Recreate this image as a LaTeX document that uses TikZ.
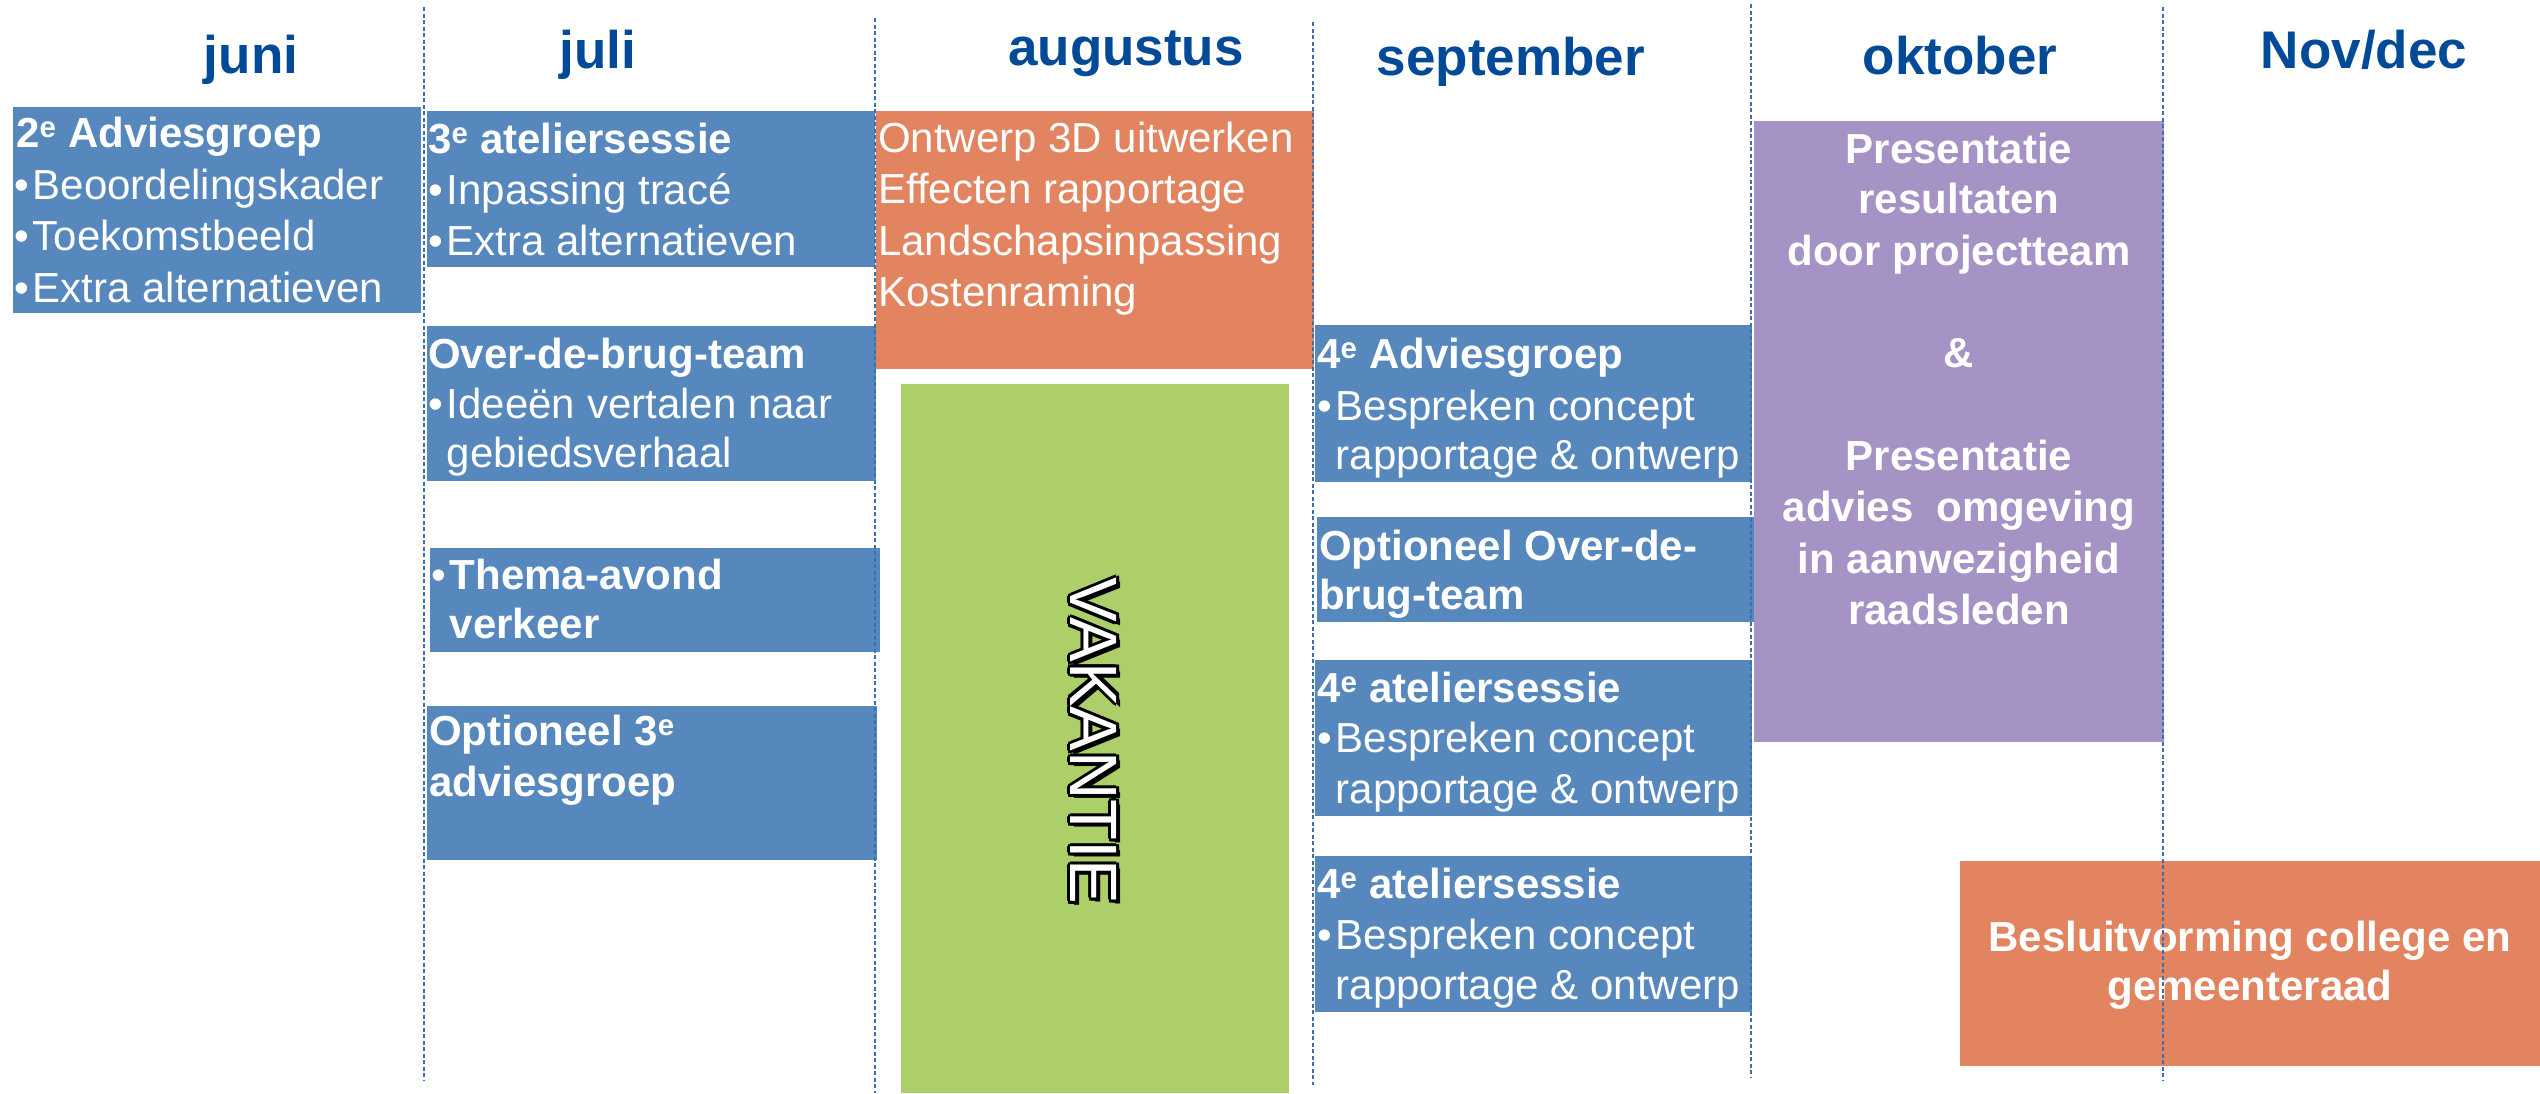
\documentclass[tikz,border=0pt]{standalone}
\usepackage{fontspec}
\setmainfont{Liberation Sans}
\definecolor{boxblue}{RGB}{87,136,189}
\definecolor{boxorange}{RGB}{227,132,96}
\definecolor{boxgreen}{RGB}{173,207,105}
\definecolor{boxpurple}{RGB}{165,147,198}
\definecolor{monthblue}{RGB}{0,74,152}
\definecolor{lineblue}{RGB}{60,110,180}
\tikzset{
  box/.style={fill=#1, draw=none, inner sep=0pt, outer sep=0pt, anchor=north west},
  month/.style={text=monthblue, font=\fontsize{53}{60}\selectfont\bfseries, anchor=base, inner sep=0pt},
  txt/.style={text=white, font=\fontsize{42}{51}\selectfont, anchor=base west, inner sep=0pt},
  btxt/.style={txt, font=\fontsize{42}{51}\selectfont\bfseries},
  ctxt/.style={btxt, anchor=base},
  vak/.style={font=\fontsize{67}{70}\selectfont, rotate=-90, inner sep=0pt},
  sep/.style={draw=lineblue, line width=1.6pt, dash pattern=on 4pt off 2.5pt}
}
\newcommand{\bul}{•\kern4pt}
\newcommand{\ind}{\hphantom{•}\kern4pt}
\begin{document}
\begin{tikzpicture}[x=1pt,y=-1pt]
\useasboundingbox (0,0) rectangle (2540,1093);
\fill[white] (0,0) rectangle (2540,1093);

% month labels
\node[month] (mjuni) at (251,73) {juni};
\node[month] (mjuli) at (598,68) {juli};
\node[month] (maug) at (1126,65) {augustus};
\node[month] (msep) at (1511,75) {september};
\node[month] (mokt) at (1960,74) {oktober};
\node[month] (mnov) at (2364,68) {Nov/dec};

% boxes
\node[box=boxblue, minimum width=408, minimum height=206] (bjuni) at (13,107) {};
\node[box=boxblue, minimum width=448, minimum height=156] (bjuli1) at (427,111) {};
\node[box=boxblue, minimum width=449, minimum height=155] (bjuli2) at (427,326) {};
\node[box=boxblue, minimum width=450, minimum height=104] (bjuli3) at (430,548) {};
\node[box=boxblue, minimum width=450, minimum height=154] (bjuli4) at (427,706) {};
\node[box=boxorange, minimum width=438, minimum height=258] (baug) at (876,111) {};
\node[box=boxgreen, minimum width=388, minimum height=709] (bvak) at (901,384) {};
\node[box=boxblue, minimum width=437, minimum height=157] (bsep1) at (1315,325) {};
\node[box=boxblue, minimum width=437, minimum height=105] (bsep2) at (1317,517) {};
\node[box=boxblue, minimum width=437, minimum height=156] (bsep3) at (1315,660) {};
\node[box=boxblue, minimum width=437, minimum height=156] (bsep4) at (1315,856) {};
\node[box=boxpurple, minimum width=410, minimum height=621] (bokt) at (1754,121) {};
\node[box=boxorange, minimum width=580, minimum height=205] (bnov) at (1960,861) {};

% juni
\node[btxt] (tj1) at (16,147) {2\textsuperscript{e} Adviesgroep};
\node[txt] (tj2) at (14,199) {\bul Beoordelingskader};
\node[txt] (tj3) at (14,250) {\bul Toekomstbeeld};
\node[txt] (tj4) at (14,302) {\bul Extra alternatieven};

% juli
\node[btxt] (tl1) at (428,153) {3\textsuperscript{e} ateliersessie};
\node[txt] (tl2) at (428,204) {\bul Inpassing tracé};
\node[txt] (tl3) at (428,255) {\bul Extra alternatieven};
\node[btxt] (tl4) at (428,368) {Over-de-brug-team};
\node[txt] (tl5) at (428,418) {\bul Ideeën vertalen naar};
\node[txt] (tl6) at (428,467) {\ind gebiedsverhaal};
\node[txt] (tl7) at (431,589) {\bul\textbf{Thema-avond}};
\node[btxt] (tl8) at (431,638) {\ind verkeer};
\node[btxt] (tl9) at (429,745) {Optioneel 3\textsuperscript{e}};
\node[btxt] (tl10) at (429,796) {adviesgroep};

% augustus
\node[txt] (ta1) at (878,152) {Ontwerp 3D uitwerken};
\node[txt] (ta2) at (878,203) {Effecten rapportage};
\node[txt] (ta3) at (878,255) {Landschapsinpassing};
\node[txt] (ta4) at (878,306) {Kostenraming};

% vakantie
\foreach \dx/\dy [count=\i] in {-2.5/-2.5,0/-3,2.5/-2.5,-3/0,3/0,-2.5/2.5,0/3,2.5/2.5,4/4}
  \node[vak, text=black] (vk\i) at (1094+\dx,741+\dy) {VAKANTIE};
\node[vak, text=white] (vak) at (1094,741) {VAKANTIE};

% september
\node[btxt] (ts1) at (1317,368) {4\textsuperscript{e} Adviesgroep};
\node[txt] (ts2) at (1317,420) {\bul Bespreken concept};
\node[txt] (ts3) at (1317,469) {\ind rapportage \& ontwerp};
\node[btxt] (ts4) at (1319,560) {Optioneel Over-de-};
\node[btxt] (ts5) at (1319,609) {brug-team};
\node[btxt] (ts6) at (1317,702) {4\textsuperscript{e} ateliersessie};
\node[txt] (ts7) at (1317,752) {\bul Bespreken concept};
\node[txt] (ts8) at (1317,803) {\ind rapportage \& ontwerp};
\node[btxt] (ts9) at (1317,898) {4\textsuperscript{e} ateliersessie};
\node[txt] (ts10) at (1317,949) {\bul Bespreken concept};
\node[txt] (ts11) at (1317,999) {\ind rapportage \& ontwerp};

% oktober
\node[ctxt] (to1) at (1959,163) {Presentatie};
\node[ctxt] (to2) at (1959,213) {resultaten};
\node[ctxt] (to3) at (1959,265) {door projectteam};
\node[ctxt] (to4) at (1959,367) {\&};
\node[ctxt] (to5) at (1959,470) {Presentatie};
\node[ctxt] (to6) at (1959,521) {advies\ \ omgeving};
\node[ctxt] (to7) at (1959,573) {in aanwezigheid};
\node[ctxt] (to8) at (1959,624) {raadsleden};

% nov/dec
\node[ctxt] (tn1) at (2250,951) {Besluitvorming college en};
\node[ctxt] (tn2) at (2250,1000) {gemeenteraad};

% separators
\coordinate (s1a) at (424,7);   \coordinate (s1b) at (424,1080);
\coordinate (s2a) at (875,18);  \coordinate (s2b) at (875,1093);
\coordinate (s3a) at (1313,22); \coordinate (s3b) at (1313,1085);
\coordinate (s4a) at (1751,4);  \coordinate (s4b) at (1751,1077);
\coordinate (s5a) at (2163,7);  \coordinate (s5b) at (2163,1080);
\draw[sep] (s1a) -- (s1b);
\draw[sep] (s2a) -- (s2b);
\draw[sep] (s3a) -- (s3b);
\draw[sep] (s4a) -- (s4b);
\draw[sep] (s5a) -- (s5b);
\end{tikzpicture}
\end{document}
